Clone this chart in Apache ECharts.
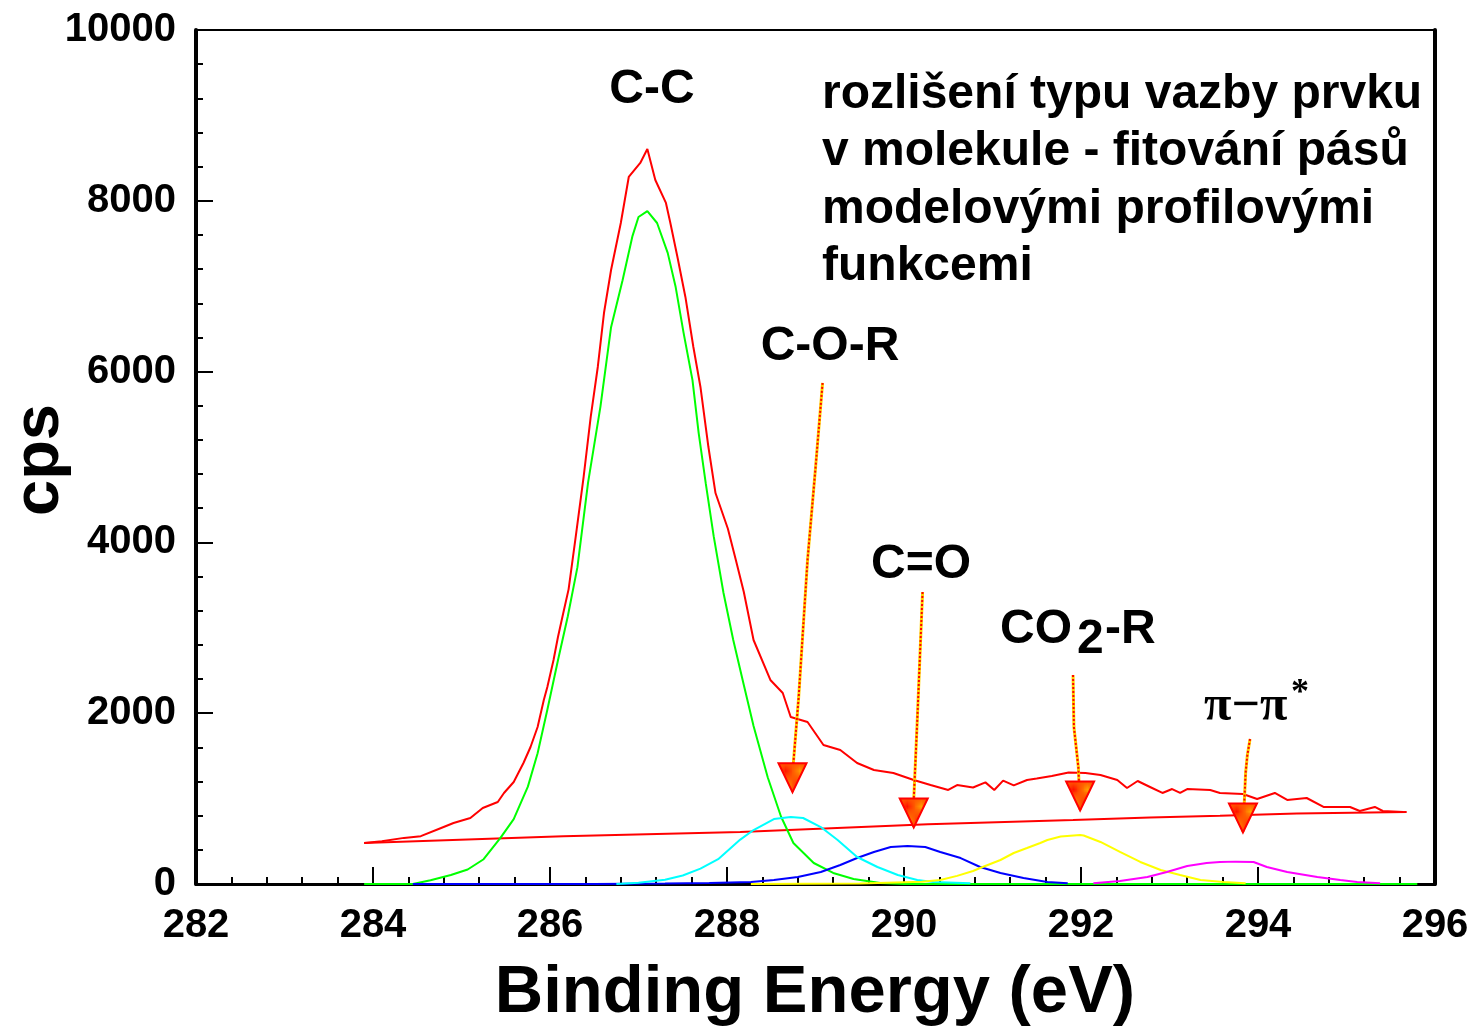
<!DOCTYPE html>
<html>
<head>
<meta charset="utf-8">
<title>XPS C 1s – fitování pásů</title>
<script src="https://cdn.jsdelivr.net/npm/echarts@6/dist/echarts.min.js"></script>
<style>
  html, body { margin: 0; padding: 0; background: #fff; }
  #chart { width: 1475px; height: 1029px; }
</style>
</head>
<body>
<div id="chart"></div>
<script>
// Binding energy axis (eV) and count axis (cps)
const xRange = { min: 282, max: 296, step: 2 };
const yRange = { min: 0, max: 10000, step: 2000 };

// Measured C 1s envelope [eV, cps]
const measured = [
  [283.9,480],[284.1,500],[284.35,540],[284.54,560],[284.77,656],[284.91,714],[285.1,773],
  [285.24,890],[285.41,960],[285.48,1066],[285.59,1194],[285.7,1417],[285.78,1604],[285.86,1838],
  [285.93,2155],[285.97,2307],[286.04,2623],[286.09,2892],[286.15,3173],[286.21,3450],[286.29,4063],
  [286.38,4766],[286.46,5469],[286.54,6054],[286.61,6686],[286.69,7190],[286.8,7740],[286.89,8279],
  [287.02,8443],[287.1,8607],[287.19,8244],[287.31,7975],[287.36,7740],[287.44,7342],[287.53,6874],
  [287.62,6288],[287.7,5820],[287.79,5117],[287.87,4578],[288.01,4160],[288.1,3794],[288.19,3420],
  [288.3,2857],[288.49,2389],[288.63,2237],[288.72,1956],[288.91,1897],[289.09,1628],[289.28,1569],
  [289.47,1417],[289.66,1335],[289.88,1300],[290.11,1218],[290.3,1159],[290.5,1101],[290.6,1159],
  [290.78,1130],[290.92,1190],[291.02,1101],[291.12,1210],[291.24,1155],[291.39,1218],[291.5,1236],
  [291.67,1265],[291.86,1305],[292.05,1300],[292.22,1276],[292.41,1218],[292.52,1124],[292.64,1206],
  [292.78,1136],[292.92,1066],[293.03,1112],[293.12,1066],[293.2,1112],[293.46,1101],[293.57,1066],
  [293.83,1054],[293.99,995],[294.19,1066],[294.33,984],[294.55,1007],[294.74,902],[295.04,902],
  [295.15,855],[295.32,902],[295.41,855],[295.64,843]
];

// Background under the envelope
const background = [
  [283.9,480],[286.15,560],[288.15,610],[289.45,665],[290.27,700],[291.91,750],
  [292.78,780],[293.57,800],[294.44,825],[295.68,843]
];

// Fitted components
const peakCC = [
  [283.9,0],[284.45,0],[284.65,45],[284.88,105],[285.07,170],[285.25,290],[285.44,540],[285.59,760],
  [285.75,1140],[285.86,1530],[285.97,2040],[286.09,2620],[286.2,3130],[286.31,3710],[286.43,4700],
  [286.57,5590],[286.69,6520],[286.82,7070],[286.93,7580],[287.0,7810],[287.1,7880],[287.21,7740],
  [287.33,7390],[287.42,6990],[287.51,6450],[287.61,5900],[287.68,5280],[287.76,4690],[287.85,4070],
  [287.96,3410],[288.07,2860],[288.19,2330],[288.3,1850],[288.46,1250],[288.61,790],[288.75,480],
  [288.98,246],[289.2,129],[289.43,59],[289.73,12],[290.0,0],[295.8,0]
];
const peakCOR = [
  [286.75,0],[287.0,15],[287.3,50],[287.5,100],[287.7,180],[287.9,290],[288.15,520],[288.3,632],
  [288.53,761],[288.72,785],[288.86,773],[289.06,667],[289.25,515],[289.47,316],[289.7,199],
  [289.93,105],[290.15,47],[290.33,23],[290.75,8]
];
const peakCO = [
  [284.45,0],[286.5,0],[287.3,5],[287.8,12],[288.27,23],[288.53,47],[288.8,82],[289.06,140],
  [289.28,222],[289.47,304],[289.66,375],[289.85,433],[290.04,445],[290.24,433],[290.41,375],
  [290.64,304],[290.86,199],[291.09,129],[291.35,70],[291.62,23],[291.85,8]
];
const peakCO2R = [
  [288.27,0],[289.5,5],[290.2,25],[290.41,47],[290.6,95],[290.78,152],[290.86,187],[291.09,281],
  [291.24,363],[291.39,421],[291.54,480],[291.62,515],[291.77,556],[291.99,574],[292.03,568],
  [292.22,492],[292.44,375],[292.67,258],[292.9,164],[293.12,105],[293.35,47],[293.61,23],[293.86,10]
];
const peakPi = [
  [292.14,10],[292.44,35],[292.75,82],[292.97,140],[293.2,211],[293.42,246],[293.57,258],
  [293.75,262],[293.95,258],[294.1,199],[294.33,140],[294.67,82],[294.93,47],[295.12,23],[295.38,10]
];

// Pointer arrows (shaft paths, last point is the tip)
const arrowCOR  = [[289.08,5867],[289.0,4871],[288.91,3794],[288.81,2190],[288.75,1417],[288.74,1080]];
const arrowCO   = [[290.21,3419],[290.15,1920],[290.11,984],[290.11,667]];
const arrowCO2R = [[291.91,2447],[291.92,1838],[291.97,1370],[291.99,866]];
const arrowPi   = [[293.91,1698],[293.88,1511],[293.86,1300],[293.83,609]];
const arrows = [arrowCOR, arrowCO, arrowCO2R, arrowPi];

// Dotted red/orange fill for arrow heads
function headPattern() {
  const c = document.createElement('canvas');
  c.width = 2; c.height = 2;
  const g = c.getContext('2d');
  g.fillStyle = '#ffa000'; g.fillRect(0, 0, 2, 2);
  g.fillStyle = '#ff1000'; g.fillRect(0, 0, 1, 1); g.fillRect(1, 1, 1, 1);
  return c;
}

const SANS = '"Liberation Sans", Arial, sans-serif';
const SERIF = '"Liberation Serif", "Times New Roman", serif';

function curve(name, data, color) {
  return {
    name, type: 'line', data, showSymbol: false, symbol: 'none', smooth: false,
    lineStyle: { color, width: 2 }, silent: true, z: 3
  };
}

const series = [
  curve('pozadí', background, '#ff0000'),
  curve('C-C', peakCC, '#00ff00'),
  curve('C=O', peakCO, '#0000ff'),
  curve('C-O-R', peakCOR, '#00ffff'),
  curve('CO2-R', peakCO2R, '#ffff00'),
  curve('π-π*', peakPi, '#ff00ff'),
  curve('spektrum', measured, '#ff0000')
];

arrows.forEach(a => {
  series.push({
    type: 'line', data: a, showSymbol: false, symbol: 'none', silent: true, z: 5,
    lineStyle: { color: '#ffd000', width: 3 }
  });
  series.push({
    type: 'line', data: a, showSymbol: false, symbol: 'none', silent: true, z: 6,
    lineStyle: { color: '#ff0000', width: 2, type: [2, 2] }
  });
});
series.push({
  type: 'scatter', silent: true, z: 7,
  data: arrows.map(a => a[a.length - 1]),
  symbol: 'path://M0,0L28,0L14,29Z',
  symbolSize: [28, 29],
  symbolOffset: [0, -14],
  itemStyle: { opacity: 1, color: { image: headPattern(), repeat: 'repeat' }, borderColor: '#ff0000', borderWidth: 2 }
});

const chart = echarts.init(document.getElementById('chart'), null, { renderer: 'canvas' });
chart.setOption({
  animation: false,
  backgroundColor: '#ffffff',
  grid: { left: 196, right: 40, top: 30, bottom: 145, show: true, borderColor: '#000', borderWidth: 2 },
  xAxis: {
    type: 'value', min: xRange.min, max: xRange.max, interval: xRange.step,
    axisLine: { lineStyle: { color: '#000', width: 3 } },
    axisTick: { inside: true, length: 17, lineStyle: { color: '#000', width: 2 } },
    minorTick: { show: true, splitNumber: 5, length: 7, lineStyle: { color: '#000', width: 2 } },
    splitLine: { show: false },
    axisLabel: { margin: 22, color: '#000', fontFamily: SANS, fontWeight: 'bold', fontSize: 40,
      formatter: v => String(v) }
  },
  yAxis: [{
    type: 'value', min: yRange.min, max: yRange.max, interval: yRange.step,
    axisLine: { lineStyle: { color: '#000', width: 4 } },
    axisTick: { inside: true, length: 17, lineStyle: { color: '#000', width: 2 } },
    minorTick: { show: true, splitNumber: 5, length: 7, lineStyle: { color: '#000', width: 2 } },
    splitLine: { show: false },
    axisLabel: { margin: 20, color: '#000', fontFamily: SANS, fontWeight: 'bold', fontSize: 40,
      formatter: v => String(v) }
  }, {
    type: 'value', position: 'right', min: yRange.min, max: yRange.max,
    axisLine: { show: true, lineStyle: { color: '#000', width: 4 } },
    axisTick: { show: false }, axisLabel: { show: false }, splitLine: { show: false }
  }],
  series,
  graphic: [
    { type: 'text', x: 40, y: 460, rotation: Math.PI / 2,
      style: { text: 'cps', font: 'bold 65px ' + SANS, fill: '#000', align: 'center', verticalAlign: 'middle' } },
    { type: 'text', x: 815, y: 994,
      style: { text: 'Binding Energy (eV)', font: 'bold 67px ' + SANS, fill: '#000', align: 'center', verticalAlign: 'middle' } },
    { type: 'text', x: 652, y: 90,
      style: { text: 'C-C', font: 'bold 48px ' + SANS, fill: '#000', align: 'center', verticalAlign: 'middle' } },
    { type: 'text', x: 830, y: 347,
      style: { text: 'C-O-R', font: 'bold 48px ' + SANS, fill: '#000', align: 'center', verticalAlign: 'middle' } },
    { type: 'text', x: 921, y: 565,
      style: { text: 'C=O', font: 'bold 48px ' + SANS, fill: '#000', align: 'center', verticalAlign: 'middle' } },
    { type: 'text', x: 1000, y: 630,
      style: { text: 'CO', font: 'bold 48px ' + SANS, fill: '#000', align: 'left', verticalAlign: 'middle' } },
    { type: 'text', x: 1077, y: 640,
      style: { text: '2', font: 'bold 48px ' + SANS, fill: '#000', align: 'left', verticalAlign: 'middle' } },
    { type: 'text', x: 1105, y: 630,
      style: { text: '-R', font: 'bold 48px ' + SANS, fill: '#000', align: 'left', verticalAlign: 'middle' } },
    { type: 'text', x: 1204, y: 707,
      style: { text: 'π−π', font: 'bold 50px ' + SERIF, fill: '#000', align: 'left', verticalAlign: 'middle' } },
    { type: 'text', x: 1291, y: 694,
      style: { text: '*', font: 'bold 36px ' + SERIF, fill: '#000', align: 'left', verticalAlign: 'middle' } },
    { type: 'text', x: 822, y: 66,
      style: { text: 'rozlišení typu vazby prvku\nv molekule - fitování pásů\nmodelovými profilovými\nfunkcemi',
        font: 'bold 48px ' + SANS, lineHeight: 57.5, fill: '#000', align: 'left', verticalAlign: 'top' } }
  ]
});
</script>
</body>
</html>
